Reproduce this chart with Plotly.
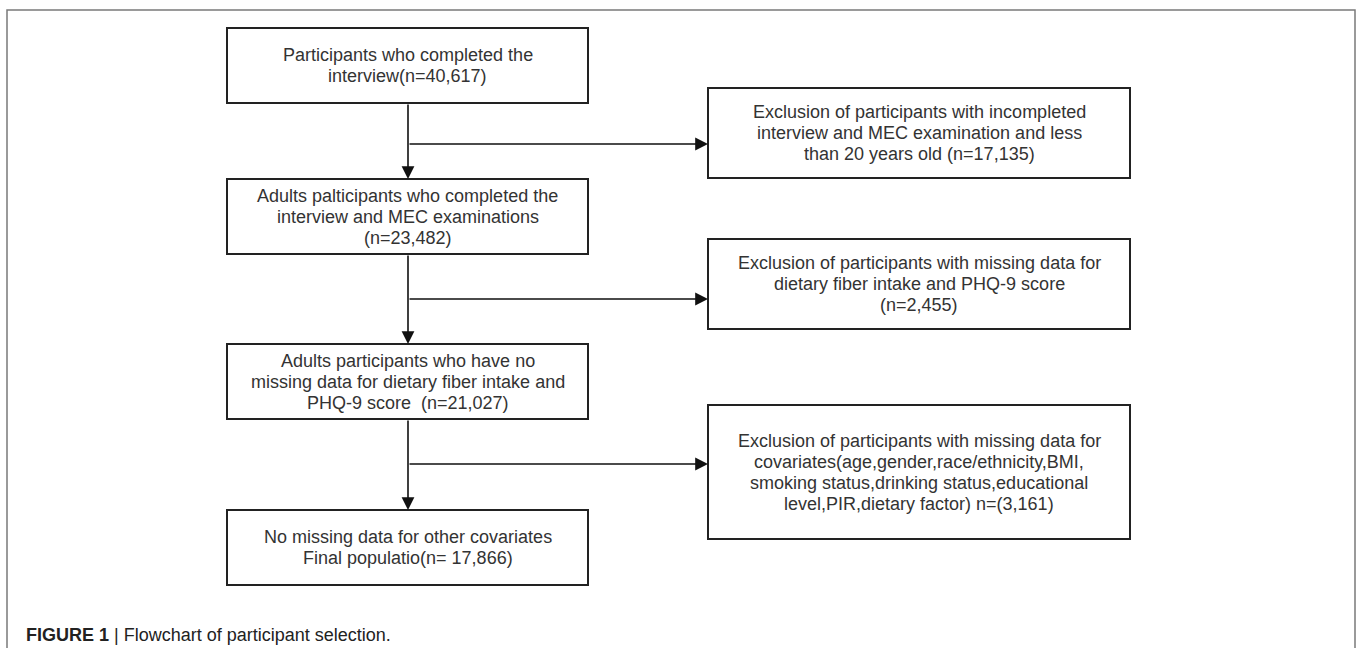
import plotly.graph_objects as go

# ---- content (text of each step) ----
main_steps = [
    ["Participants who completed the", "interview(n=40,617)"],
    ["Adults palticipants who completed the", "interview and MEC examinations", "(n=23,482)"],
    ["Adults participants who have no", "missing data for dietary fiber intake and", "PHQ-9 score \u00a0(n=21,027)"],
    ["No missing data for other covariates", "Final populatio(n= 17,866)"],
]
exclusions = [
    ["Exclusion of participants with incompleted", "interview and MEC examination and less", "than 20 years old (n=17,135)"],
    ["Exclusion of participants with missing data for", "dietary fiber intake and PHQ-9 score", "(n=2,455)"],
    ["Exclusion of participants with missing data for", "covariates(age,gender,race/ethnicity,BMI,",
     "smoking status,drinking status,educational", "level,PIR,dietary factor) n=(3,161)"],
]
caption_bold = "FIGURE 1"
caption_text = "Flowchart of participant selection."

# ---- layout geometry (pixel-like axis units) ----
W, H = 1357, 648
main_x = (227, 588)
main_y = [(28, 103), (179, 254), (344, 419), (510, 585)]
excl_x = (708, 1130)
excl_y = [(88, 178), (239, 329), (405, 539)]
branch_y = [144, 299, 464]
line_gap = 21
FONT = "Liberation Sans, Arial, sans-serif"
TXT = "#333333"
EDGE = "#222222"

fig = go.Figure()
shapes = []
annotations = []

# outer frame
shapes.append(dict(type="rect", xref="x", yref="y", x0=7, x1=1355, y0=10, y1=700,
                   line=dict(color="#7a7a7a", width=1.5), fillcolor="rgba(0,0,0,0)"))

def add_box(x0, x1, y0, y1, lines):
    shapes.append(dict(type="rect", xref="x", yref="y", x0=x0, x1=x1, y0=y0, y1=y1,
                       line=dict(color=EDGE, width=2), fillcolor="white"))
    cx = (x0 + x1) / 2
    cy = (y0 + y1) / 2
    n = len(lines)
    for i, t in enumerate(lines):
        annotations.append(dict(x=cx, y=cy + (i - (n - 1) / 2) * line_gap, xref="x", yref="y",
                                text=t, showarrow=False, xanchor="center", yanchor="middle",
                                font=dict(family=FONT, size=18, color=TXT)))

for (y0, y1), lines in zip(main_y, main_steps):
    add_box(main_x[0], main_x[1], y0, y1, lines)
for (y0, y1), lines in zip(excl_y, exclusions):
    add_box(excl_x[0], excl_x[1], y0, y1, lines)

cx_main = (main_x[0] + main_x[1]) / 2 + 0.5

def arrow(x0, y0, x1, y1):
    annotations.append(dict(x=x1, y=y1, ax=x0, ay=y0, xref="x", yref="y", axref="x", ayref="y",
                            text="", showarrow=True, arrowhead=2, arrowsize=1.6, arrowwidth=1.6,
                            arrowcolor="#111111", standoff=0))

# vertical arrows between main boxes
for i in range(len(main_y) - 1):
    arrow(cx_main, main_y[i][1], cx_main, main_y[i + 1][0])
# branch arrows to exclusion boxes
for by in branch_y:
    arrow(cx_main, by, excl_x[0], by)

# caption
annotations.append(dict(x=24, y=635, xref="x", yref="y", showarrow=False, xanchor="left", yanchor="middle",
                        text=f"<b>{caption_bold}</b> | {caption_text}",
                        font=dict(family=FONT, size=18, color="#222222")))

fig.update_layout(
    width=W, height=H, margin=dict(l=0, r=0, t=0, b=0),
    paper_bgcolor="white", plot_bgcolor="white",
    xaxis=dict(range=[0, W], visible=False, fixedrange=True),
    yaxis=dict(range=[H, 0], visible=False, fixedrange=True),
    shapes=shapes, annotations=annotations, showlegend=False,
)

fig.write_html("out.html", config={"displayModeBar": False},
               post_script="document.body.style.margin='0';document.body.style.overflow='hidden';")
